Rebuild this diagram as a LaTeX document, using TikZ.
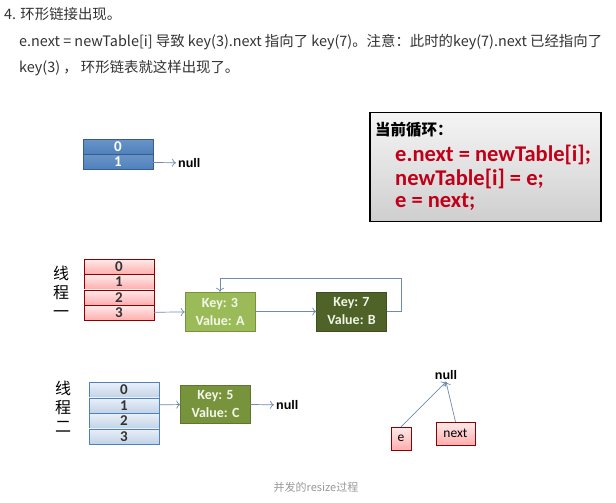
\documentclass[tikz,border=0pt]{standalone}
\usepackage{fontspec}
\usepackage{xcolor}
\usepackage{tikz}
\usetikzlibrary{calc}
\usetikzlibrary{positioning, arrows.meta}
\newfontfamily\cjk{Noto Sans CJK SC}
\newfontfamily\calib{Carlito}
\newfontfamily\arialb{Liberation Sans}
\definecolor{headgray}{HTML}{333333}
\definecolor{linkblue}{HTML}{6F8BAE}
\definecolor{codered}{HTML}{C00018}
\definecolor{keylight}{HTML}{9BBB59}
\definecolor{keydark}{HTML}{4F6228}
\definecolor{keymid}{HTML}{77933C}
\definecolor{bucketblue}{HTML}{4F81BD}
\definecolor{bucketedge}{HTML}{385D8A}
\tikzset{cell/.style={draw, minimum width=70pt, minimum height=15pt, inner sep=0pt,
  font=\calib\bfseries\fontsize{15}{15}\selectfont},
%the three kinds of bucket rows
bluecell/.style={cell, top color=bucketblue!85!white, bottom color=bucketblue, draw=bucketedge, text=white},
pinkcell/.style={cell, top color=red!8, bottom color=red!32, draw=red!55!black, text=black!80},
palecell/.style={cell, top color=bucketblue!12, bottom color=bucketblue!35, draw=bucketblue, text=black!80},
keybox/.style={draw, minimum width=70pt, minimum height=39pt, inner sep=0pt, align=center,
  font=\calib\bfseries\fontsize{14}{18}\selectfont},
link/.style={-{To[length=4pt,width=8pt]}, draw=linkblue, line width=0.7pt},
nulltext/.style={font=\arialb\bfseries\fontsize{12.5}{14}\selectfont, inner sep=2pt},
header/.style={font=\cjk\fontsize{14.4}{16}\selectfont, text=headgray, inner sep=0pt}}

\begin{document}
\begin{tikzpicture}[x=1pt,y=-1pt]
\useasboundingbox[fill=white] (0,0) rectangle (616,503);

%HEADER TEXT
  \node[header,anchor=west] (Title) at (4,14) {4. 环形链接出现。};
  \node[header,anchor=west] (Text1) at (19,42) {e.next = newTable[i] 导致 key(3).next 指向了 key(7)。注意：此时的key(7).next 已经指向了};
  \node[header,anchor=west] (Text2) at (19,68) {key(3) ， 环形链表就这样出现了。};

%NEW TABLE
  \node[bluecell] (Top0) at (118,146.5) {0};
  \node[bluecell] (Top1) [below=0pt of Top0] {1};
  \node[nulltext,anchor=west] (TopNull) at (176,163) {null};
  \draw[link] (Top1) -- (TopNull);

%CODE BOX
  \node[draw=black, line width=1.2pt, top color=gray!8, bottom color=gray!38,
        minimum width=231pt, minimum height=109pt] (CodeBox) at (485.5,167) {};
  \node[anchor=west, inner sep=0pt, font=\cjk\bfseries\fontsize{15.5}{17}\selectfont] (CodeTitle) at (375,130) {当前循环：};
  \node[anchor=west, inner sep=0pt, text=codered, font=\calib\bfseries\fontsize{22.5}{24}\selectfont] (CodeLine1) at (395,155) {e.next = newTable[i];};
  \node[anchor=west, inner sep=0pt, text=codered, font=\calib\bfseries\fontsize{22.5}{24}\selectfont] (CodeLine2) at (395,178.5) {newTable[i] = e;};
  \node[anchor=west, inner sep=0pt, text=codered, font=\calib\bfseries\fontsize{22.5}{24}\selectfont] (CodeLine3) at (395,202) {e = next;};

%THREAD ONE
  \node[align=center, font=\cjk\fontsize{16}{19}\selectfont] (Thread1) at (61,292) {线\\程\\一};
  \node[pinkcell] (T1Row0) at (119,266.5) {0};
  \node[pinkcell] (T1Row1) [below=0pt of T1Row0] {1};
  \node[pinkcell] (T1Row2) [below=0pt of T1Row1] {2};
  \node[pinkcell] (T1Row3) [below=0pt of T1Row2] {3};

  \node[keybox, fill=keylight, draw=keymid, text=white!88!keylight] (Key3) at (220,311.5) {Key: 3\\Value: A};
  \node[keybox, fill=keydark, draw=keydark!80!black, text=white!85!keylight] (Key7) at (351.5,311.5) {Key: 7\\Value: B};

  \draw[link] (T1Row3) -- (Key3);
  \draw[link] (Key3) -- (Key7);
  \coordinate (LoopCorner) at (401,278);
  \draw[link] (Key7.east) -| (LoopCorner) -| (Key3.north);

%THREAD TWO
  \node[align=center, font=\cjk\fontsize{16}{19}\selectfont] (Thread2) at (63,407) {线\\程\\二};
  \node[palecell] (T2Row0) at (124,390) {0};
  \node[palecell] (T2Row1) [below=0pt of T2Row0] {1};
  \node[palecell] (T2Row2) [below=0pt of T2Row1] {2};
  \node[palecell] (T2Row3) [below=0pt of T2Row2] {3};

  \node[keybox, fill=keymid, draw=keymid!80!black, text=white!88!keylight, minimum height=38pt] (Key5) at (215.5,404) {Key: 5\\Value: C};
  \node[nulltext,anchor=west] (Key5Null) at (274,405) {null};

  \draw[link] (T2Row1) -- (Key5);
  \draw[link] (Key5) -- (Key5Null);

%POINTERS E AND NEXT
  \node[nulltext] (FreeNull) at (446,375) {null};
  \node[draw=red!55!black, top color=red!8, bottom color=red!32, minimum width=20pt, minimum height=23pt,
        inner sep=0pt, font=\calib\fontsize{13.5}{15}\selectfont] (E) at (401,438.5) {e};
  \node[draw=red!55!black, top color=red!8, bottom color=red!32, minimum width=39pt, minimum height=23pt,
        inner sep=0pt, font=\calib\fontsize{13.5}{15}\selectfont] (Next) at (455.5,433.5) {next};
  \draw[link] (E.north) -- (FreeNull.south);
  \draw[link] (Next.north) -- (FreeNull.south);

%CAPTION
  \node[font=\cjk\fontsize{11}{13}\selectfont, text=gray!80] (Caption) at (316,487) {并发的resize过程};

\end{tikzpicture}
\end{document}
